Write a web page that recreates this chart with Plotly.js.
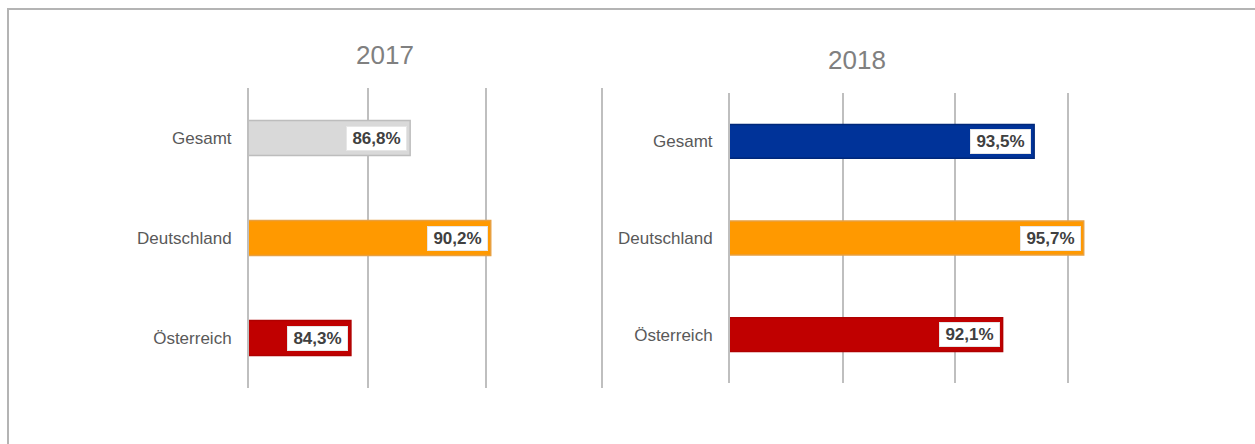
<!DOCTYPE html>
<html>
<head>
<meta charset="utf-8">
<script src="https://cdn.plot.ly/plotly-3.0.1.min.js"></script>
<style>html,body{margin:0;padding:0;background:#fff;}#chart{width:1255px;height:444px;}</style>
</head>
<body>
<div id="chart"></div>
<script>
const categories = ['Gesamt', 'Deutschland', 'Österreich'];
const values2017 = [86.8, 90.2, 84.3];
const values2018 = [93.5, 95.7, 92.1];
const panelTitles = ['2017', '2018'];
const colors2017 = ['#d9d9d9', '#ff9900', '#c00000'];
const lines2017 = ['#bdbdbd', '#e8a040', '#b00000'];
const colors2018 = ['#003399', '#ff9900', '#c00000'];
const lines2018 = ['#00287a', '#e8a040', '#b00000'];

const FONT = 'Liberation Sans, Arial, sans-serif';
const fmt = v => '\u2009' + v.toFixed(1).replace('.', ',') + '%\u2009';

const traces = [
  {type: 'bar', orientation: 'h', y: categories, x: values2017, xaxis: 'x', yaxis: 'y',
   width: 0.35, marker: {color: colors2017, line: {color: lines2017, width: 1.5}}, hoverinfo: 'none', showlegend: false},
  {type: 'bar', orientation: 'h', y: categories, x: values2018, xaxis: 'x2', yaxis: 'y2',
   width: 0.35, marker: {color: colors2018, line: {color: lines2018, width: 1.5}}, hoverinfo: 'none', showlegend: false}
];

function labelAnns(vals, xref, yref) {
  return vals.map((v, i) => ({
    x: v, y: categories[i], xref: xref, yref: yref, text: fmt(v), showarrow: false,
    xanchor: 'right', xshift: -3, bgcolor: '#ffffff', borderpad: 2,
    bordercolor: '#e6e6e6', borderwidth: 1,
    font: {family: FONT, size: 17, color: '#404040', weight: 'bold'}
  }));
}

const xCommon = {showticklabels: false, ticks: '', showgrid: true, gridcolor: '#bfbfbf', gridwidth: 2,
  zeroline: false, tickmode: 'linear', tick0: 80, dtick: 5, fixedrange: true};
const yCommon = {type: 'category', categoryorder: 'array', categoryarray: categories, autorange: 'reversed',
  showline: true, linecolor: '#bfbfbf', linewidth: 2, showgrid: false, zeroline: false, ticks: '',
  ticklabelstandoff: 12, tickfont: {family: FONT, size: 17, color: '#595959'}, fixedrange: true};

const layout = {
  width: 1255, height: 444,
  margin: {l: 0, r: 0, t: 0, b: 0},
  paper_bgcolor: '#ffffff', plot_bgcolor: 'rgba(0,0,0,0)',
  font: {family: FONT},
  showlegend: false,
  xaxis: Object.assign({}, xCommon, {domain: [249/1255, 509.7/1255], range: [80, 91], anchor: 'y'}),
  yaxis: Object.assign({}, yCommon, {domain: [1 - 388/444, 1 - 88/444], anchor: 'x'}),
  xaxis2: Object.assign({}, xCommon, {domain: [730/1255, 1113/1255], range: [80, 97], anchor: 'y2'}),
  yaxis2: Object.assign({}, yCommon, {domain: [1 - 383/444, 1 - 93/444], anchor: 'x2'}),
  annotations: [
    {text: panelTitles[0], xref: 'paper', yref: 'paper', x: 385/1255, y: 1 - 55/444, showarrow: false,
     xanchor: 'center', yanchor: 'middle', font: {family: FONT, size: 26, color: '#808080'}},
    {text: panelTitles[1], xref: 'paper', yref: 'paper', x: 857/1255, y: 1 - 60/444, showarrow: false,
     xanchor: 'center', yanchor: 'middle', font: {family: FONT, size: 26, color: '#808080'}}
  ].concat(labelAnns(values2017, 'x', 'y')).concat(labelAnns(values2018, 'x2', 'y2')),
  shapes: [
    {type: 'line', xref: 'paper', yref: 'paper', x0: 602/1255, x1: 602/1255, y0: 1 - 388/444, y1: 1 - 88/444,
     line: {color: '#bfbfbf', width: 2}},
    {type: 'line', xref: 'paper', yref: 'paper', x0: 7/1255, x1: 1, y0: 1 - 9/444, y1: 1 - 9/444,
     line: {color: '#b4b4b4', width: 2}},
    {type: 'line', xref: 'paper', yref: 'paper', x0: 8/1255, x1: 8/1255, y0: 0, y1: 1 - 9/444,
     line: {color: '#b4b4b4', width: 2}}
  ]
};

Plotly.newPlot('chart', traces, layout, {displayModeBar: false, staticPlot: true});
</script>
</body>
</html>
